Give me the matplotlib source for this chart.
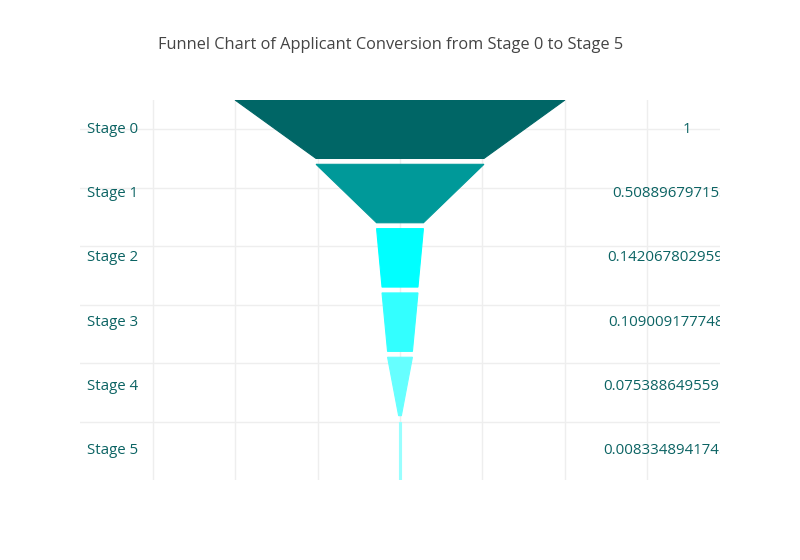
import matplotlib
matplotlib.use('Agg')
import matplotlib.pyplot as plt
from matplotlib.patches import Polygon

plt.rcParams['font.family'] = ['Open Sans', 'DejaVu Sans']

stages = ['Stage 0', 'Stage 1', 'Stage 2', 'Stage 3', 'Stage 4', 'Stage 5']
# conversion ratios as printed on the right (the long ones are cut off by the plot edge)
ratio_text = ['1', '0.5088967971530249', '0.14206780295959186', '0.10900917774813492',
              '0.075388649559521356', '0.008334894174508213']
ratios = [float(t) for t in ratio_text]
colors = ['#006666', '#009999', '#00ffff', '#33ffff', '#66ffff', '#99ffff']
title = 'Funnel Chart of Applicant Conversion from Stage 0 to Stage 5'

fig = plt.figure(figsize=(8, 5.6), dpi=100)
ax = fig.add_axes([0.1, 80 / 560, 0.8, 380 / 560])

n = len(stages)
block = 1.0
gap = 0.1
label_color = '#0b6363'

for i, (name, val) in enumerate(zip(stages, ratios)):
    top = (n - i) * (block + gap) - gap
    bot = top - block
    nxt = ratios[i + 1] if i + 1 < n else val
    pts = [(-val / 2, top), (val / 2, top), (nxt / 2, bot), (-nxt / 2, bot)]
    ax.add_patch(Polygon(pts, closed=True, facecolor=colors[i],
                         edgecolor=colors[i], linewidth=0.8, zorder=2))
    mid = (top + bot) / 2
    ax.text(-0.95, mid, name, ha='left', va='center', fontsize=10.8,
            color=label_color, zorder=3)
    ax.text(0.87, mid, ratio_text[i], ha='center', va='center', fontsize=10.8,
            color=label_color, clip_on=True, zorder=3)

ax.set_xlim(-0.97, 0.97)
ax.set_ylim(0, 6.5)
ax.set_xticks([-0.75, -0.5, -0.25, 0, 0.25, 0.5, 0.75])
ax.set_yticks([1, 2, 3, 4, 5, 6])
ax.grid(True, color='#eeeeee', linewidth=1, zorder=0)
ax.set_axisbelow(True)
ax.tick_params(length=0, labelbottom=False, labelleft=False)
for s in ax.spines.values():
    s.set_visible(False)

fig.text(391 / 800, 1 - 45 / 560, title, ha='center', va='center',
         fontsize=11.8, color='#444444')

plt.savefig('out.png', dpi=100)
